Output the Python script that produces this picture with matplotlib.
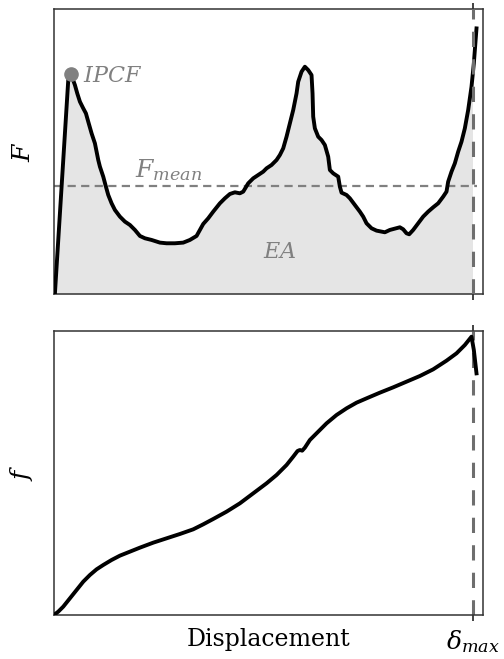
import numpy as np
import matplotlib.pyplot as plt

plt.rcParams['font.family'] = 'DejaVu Serif'
plt.rcParams['mathtext.fontset'] = 'dejavuserif'

# displacement at end of stroke (arbitrary units)
delta_max = 125.6

# crushing force F vs displacement
x_force = [0.3, 4.3, 5.1, 6.3, 7.0, 7.8, 8.8, 9.6, 10.3, 11.3, 12.3, 12.8, 13.3,
           13.8, 14.8, 15.6, 16.3, 17.3, 18.3, 19.8, 21.3, 22.8, 24.3, 25.8,
           27.3, 29.3, 31.8, 33.8, 36.3, 38.8, 40.8, 42.8, 43.8, 44.8, 46.3,
           47.8, 49.8, 51.3, 52.8, 54.3, 55.8, 56.8, 58.3, 59.8, 61.3, 62.8,
           63.8, 65.3, 66.8, 67.8, 68.8, 69.8, 70.8, 71.8, 72.8, 73.3, 74.3,
           75.3, 76.3, 77.3, 77.6, 77.8, 78.3, 79.3, 80.3, 81.3, 82.3, 82.8,
           83.8, 85.3, 85.8, 86.3, 87.8, 88.8, 90.3, 91.8, 92.8, 93.8, 95.3,
           96.8, 99.3, 100.8, 102.3, 103.8, 104.8, 105.8, 106.6, 107.8, 109.3,
           110.8, 112.3, 113.8, 115.3, 116.8, 117.8, 118.3, 119.3, 120.3, 121.3,
           122.3, 123.3, 124.3, 125.3, 126.0, 126.8]
force = [0.2, 64.2, 66.0, 62.7, 60.2, 57.7, 55.7, 54.2, 51.7, 48.2, 45.2, 42.7,
         40.2, 38.2, 35.2, 32.2, 29.7, 27.2, 25.2, 23.2, 21.7, 20.7, 19.2, 17.4,
         16.7, 16.2, 15.4, 15.2, 15.2, 15.4, 16.2, 17.4, 19.2, 21.0, 22.7, 24.7,
         27.2, 28.7, 30.0, 30.5, 30.2, 30.7, 33.2, 34.7, 35.7, 36.7, 37.7, 38.7,
         40.2, 41.7, 43.7, 47.2, 51.2, 55.2, 60.2, 63.7, 66.7, 68.2, 67.2, 65.7,
         60.2, 53.2, 49.7, 47.2, 46.2, 44.7, 41.2, 37.2, 36.2, 35.2, 32.2, 30.4,
         29.7, 28.7, 26.7, 24.7, 23.2, 21.2, 19.7, 19.0, 18.5, 19.2, 19.6, 20.0,
         19.4, 18.2, 17.9, 19.2, 21.2, 23.2, 24.7, 26.0, 27.2, 29.2, 30.7, 33.7,
         36.7, 39.2, 42.7, 45.7, 49.7, 55.2, 62.2, 69.2, 79.7]

# objective f vs displacement
x_obj = [0.0, 1.3, 2.8, 4.8, 6.8, 8.8, 10.8, 12.8, 14.8, 17.3, 19.8, 22.8, 25.8,
         29.8, 33.8, 37.8, 41.8, 44.8, 47.8, 51.8, 55.8, 59.8, 63.8, 66.8, 69.8,
         71.8, 73.1, 73.8, 74.5, 75.3, 76.8, 79.3, 81.8, 84.8, 87.8, 90.8, 93.8,
         97.8, 101.8, 105.8, 109.8, 113.8, 117.8, 120.8, 123.3, 125.3, 126.0, 126.8]
obj = [0.0, 1.0, 2.5, 5.0, 7.5, 10.0, 12.0, 13.7, 15.0, 16.5, 17.8, 19.0, 20.2,
       21.7, 23.0, 24.3, 25.7, 27.2, 28.8, 31.0, 33.5, 36.5, 39.5, 42.0, 45.0,
       47.5, 49.2, 49.5, 49.3, 50.2, 52.5, 55.0, 57.5, 60.0, 62.0, 63.7, 65.0,
       66.7, 68.3, 70.0, 71.7, 73.7, 76.3, 78.5, 81.0, 83.5, 79.5, 72.5]

ipcf = (5.1, 66.0)
f_mean = 32.4

x_force = np.array(x_force)
force = np.array(force)

fig = plt.figure(figsize=(5.04, 6.59), dpi=100)
ax1 = fig.add_axes([0.107, 0.554, 0.851, 0.4317])
ax2 = fig.add_axes([0.107, 0.0668, 0.851, 0.4309])

gray = '#808080'
dash_gray = '#6e6e6e'

# energy absorbed = area under F up to delta_max
mask = x_force <= delta_max
fx = np.append(x_force[mask], delta_max)
fy = np.append(force[mask], np.interp(delta_max, x_force, force))
ax1.fill_between(fx, 0, fy, color='#e5e5e5', lw=0, zorder=1)
ax1.plot([0, x_force[-1]], [f_mean, f_mean], color=gray, lw=1.6,
         dashes=(3.7, 2.4), zorder=2)
ax1.plot(x_force, force, color='black', lw=2.8, zorder=3, solid_joinstyle='round')
ax1.axvline(delta_max, color=dash_gray, lw=2.2, dashes=(5, 4), zorder=4)
ax1.plot(*ipcf, 'o', color=gray, ms=9.5, zorder=5)

ax1.text(8.8, 65.4, '$IPCF$', color=gray, fontsize=16, ha='left', va='center')
ax1.text(34.3, 37.2, '$F_{mean}$', color=gray, fontsize=18, ha='center', va='center')
ax1.text(67.8, 12.7, '$EA$', color=gray, fontsize=16, ha='center', va='center')

ax2.plot(x_obj, obj, color='black', lw=2.8, zorder=3, solid_joinstyle='round')
ax2.axvline(delta_max, color=dash_gray, lw=2.2, dashes=(5, 4), zorder=2)

ax1.set_ylim(0, 85.4)
ax2.set_ylim(0, 85.2)
for ax in (ax1, ax2):
    ax.set_xlim(0, 128.7)
    ax.set_yticks([])
    ax.set_xticks([delta_max])
    ax.tick_params(axis='x', top=True, bottom=True, direction='out',
                   length=4.5, width=1.2, color='#222222', pad=5)
    for s in ax.spines.values():
        s.set_color('#333333')
        s.set_linewidth(1.1)

ax1.set_xticklabels([])
ax2.set_xticklabels([r'$\delta_{max}$'], fontsize=18)

ax1.set_ylabel('$F$', fontsize=18)
ax1.yaxis.set_label_coords(-0.044, 0.5)
ax2.set_ylabel('$f$', fontsize=18)
ax2.yaxis.set_label_coords(-0.044, 0.5)

ax2.set_xlabel('Displacement', fontsize=17)
ax2.xaxis.set_label_coords(0.5, -0.045)

fig.savefig('out.png', dpi=100)
